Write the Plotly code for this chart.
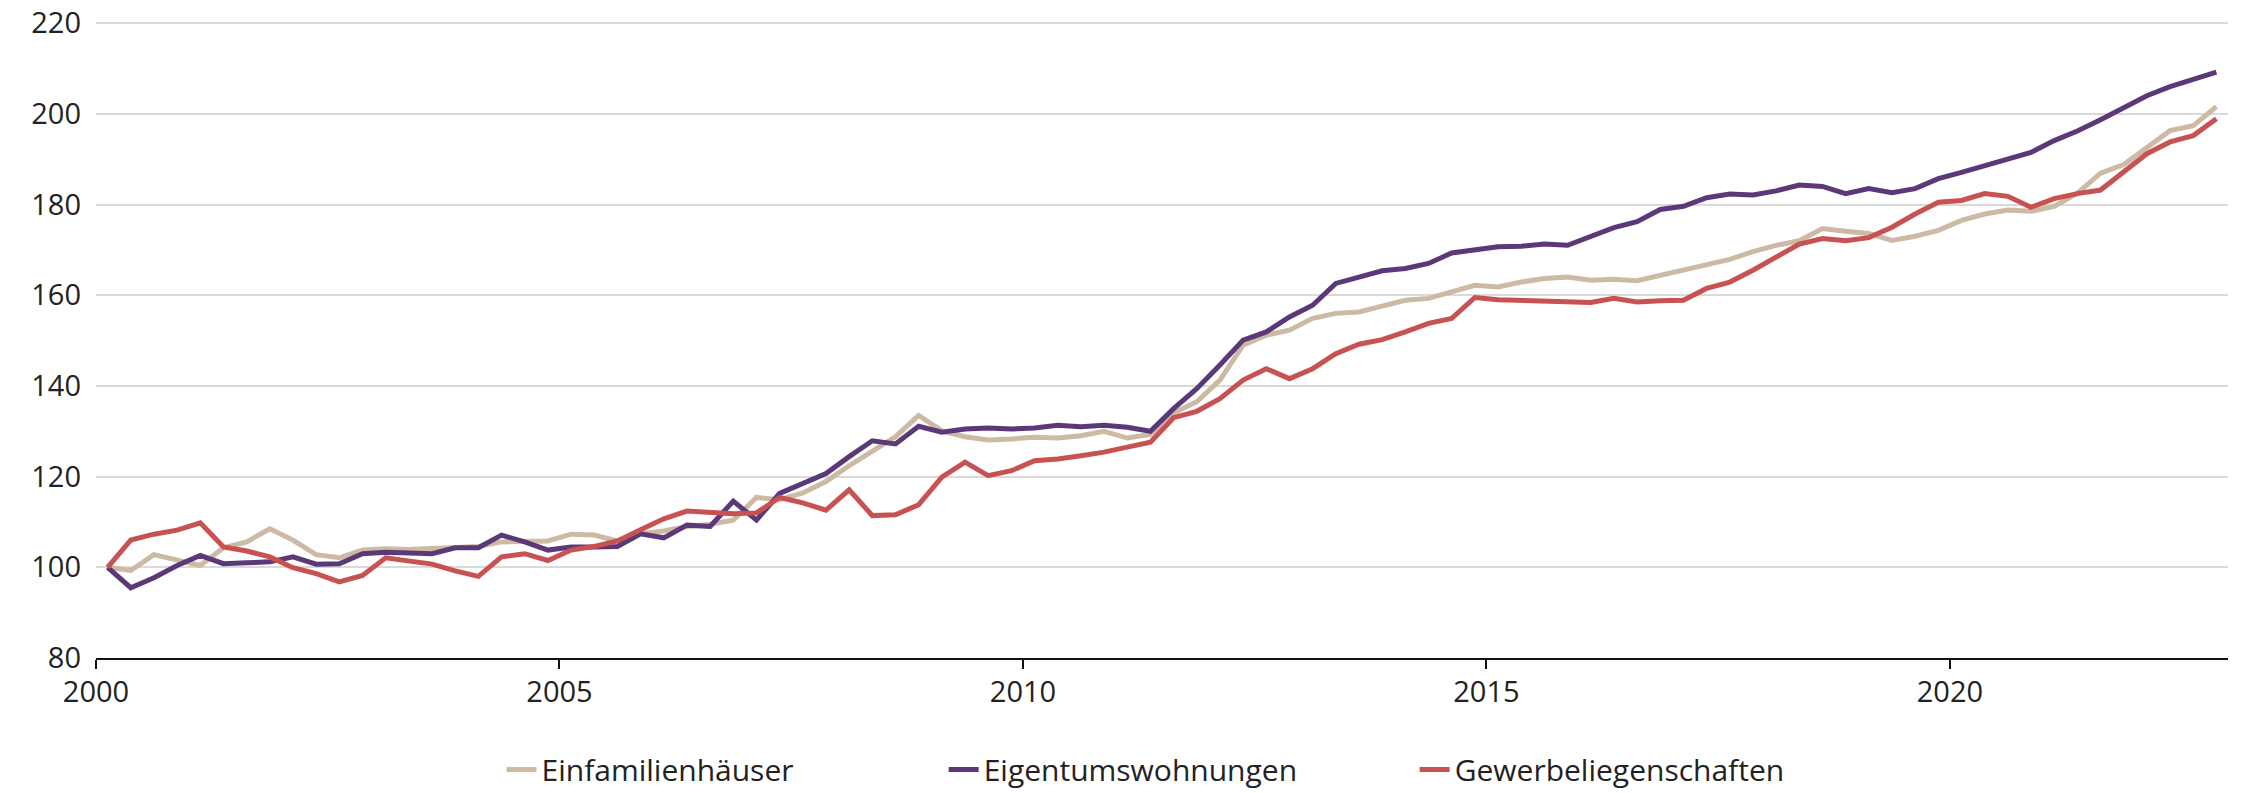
import plotly.graph_objects as go

# Quarterly observations, 2000 Q1 .. 2022 Q4 (plotted at mid-quarter)
start_year = 2000
n_quarters = 92
quarters = [start_year + 0.125 + 0.25 * i for i in range(n_quarters)]

einfamilienhaeuser = [
    100.0, 99.3, 102.8, 101.7, 100.4, 104.3, 105.6, 108.5, 106.0, 102.8,
    102.1, 103.8, 104.1, 103.9, 104.1, 104.4, 104.6, 105.6, 105.8, 105.8,
    107.3, 107.1, 105.8, 107.4, 108.0, 109.0, 109.5, 110.4, 115.4, 114.9,
    116.4, 118.9, 122.4, 125.7, 128.8, 133.5, 130.1, 128.8, 128.1, 128.3,
    128.7, 128.5, 129.0, 130.0, 128.5, 129.3, 134.0, 136.5, 141.3, 149.0,
    151.2, 152.3, 154.9, 156.0, 156.3, 157.6, 158.9, 159.3, 160.7, 162.2,
    161.8, 162.9, 163.7, 164.0, 163.3, 163.5, 163.2, 164.4, 165.5, 166.6,
    167.9, 169.6, 171.0, 172.0, 174.7, 174.1, 173.6, 172.1, 173.0, 174.3,
    176.5, 177.9, 178.8, 178.5, 179.6, 182.5, 186.9, 188.8, 192.6, 196.3,
    197.4, 201.6,
]

eigentumswohnungen = [
    100.0, 95.5, 97.7, 100.4, 102.6, 100.8, 101.0, 101.2, 102.3, 100.7,
    100.8, 103.0, 103.3, 103.2, 103.0, 104.3, 104.3, 107.1, 105.6, 103.8,
    104.5, 104.5, 104.6, 107.4, 106.5, 109.3, 109.0, 114.6, 110.4, 116.3,
    118.4, 120.7, 124.4, 127.9, 127.2, 131.1, 129.8, 130.5, 130.7, 130.5,
    130.7, 131.3, 131.0, 131.3, 130.9, 130.0, 135.0, 139.4, 144.6, 150.1,
    151.9, 155.2, 157.8, 162.6, 164.0, 165.4, 165.9, 167.0, 169.3, 169.9,
    170.7, 170.8, 171.3, 171.0, 172.9, 174.9, 176.2, 178.9, 179.6, 181.5,
    182.3, 182.1, 183.0, 184.3, 184.0, 182.4, 183.5, 182.6, 183.5, 185.7,
    187.1, 188.6, 189.9, 191.5, 194.1, 196.2, 198.7, 201.3, 204.0, 206.0,
    207.7, 209.2,
]

gewerbeliegenschaften = [
    100.0, 106.0, 107.3, 108.2, 109.8, 104.5, 103.6, 102.3, 99.9, 98.6,
    96.8, 98.2, 102.1, 101.5, 100.7, 99.2, 98.0, 102.3, 103.0, 101.5,
    103.8, 104.6, 105.8, 108.3, 110.7, 112.4, 112.2, 111.8, 112.0, 115.4,
    114.2, 112.6, 117.1, 111.4, 111.6, 113.8, 119.9, 123.2, 120.2, 121.3,
    123.5, 123.9, 124.6, 125.4, 126.5, 127.6, 133.0, 134.4, 137.2, 141.3,
    143.8, 141.6, 143.8, 147.1, 149.2, 150.2, 151.9, 153.8, 154.9, 159.5,
    159.0, 158.8, 158.6, 158.5, 158.4, 159.3, 158.5, 158.8, 158.9, 161.5,
    162.9, 165.5, 168.3, 171.3, 172.5, 172.0, 172.7, 175.0, 177.9, 180.5,
    180.9, 182.4, 181.8, 179.4, 181.3, 182.4, 183.2, 187.1, 191.2, 193.8,
    195.2, 198.9,
]

series_names = ["Einfamilienhäuser", "Eigentumswohnungen", "Gewerbeliegenschaften"]
series_colors = ["#CDBAA5", "#5B3878", "#C85252"]
series_values = [einfamilienhaeuser, eigentumswohnungen, gewerbeliegenschaften]

x_tickvals = [2000, 2005, 2010, 2015, 2020]
x_ticktext = ["2000", "2005", "2010", "2015", "2020"]
y_tickvals = [80, 100, 120, 140, 160, 180, 200, 220]

FONT = "Open Sans, Noto Sans, sans-serif"
FS = 29
LEGEND_FS = 30

legend_ids = ["legend", "legend2", "legend3"]
legend_x = [0.1902, 0.3976, 0.6185]

fig = go.Figure()
for name, color, vals, lg in zip(series_names, series_colors, series_values, legend_ids):
    fig.add_trace(go.Scatter(
        x=quarters, y=vals, name=name, mode="lines",
        line=dict(color=color, width=5), legend=lg,
    ))

legend_common = dict(
    orientation="h", xanchor="left", y=-0.1754, yanchor="middle",
    font=dict(family=FONT, size=LEGEND_FS, color="#222222"),
    bgcolor="rgba(0,0,0,0)",
)

# The page body adds an 8px offset, so the figure is 8px smaller than the window
fig.update_layout(
    width=2234, height=785,
    margin=dict(l=88, r=14, t=14, b=135, autoexpand=False),
    paper_bgcolor="white", plot_bgcolor="white",
    font=dict(family=FONT, size=FS, color="#222222"),
    showlegend=True,
    legend=dict(x=legend_x[0], **legend_common),
    legend2=dict(x=legend_x[1], **legend_common),
    legend3=dict(x=legend_x[2], **legend_common),
    xaxis=dict(
        range=[2000, 2023], tickmode="array", tickvals=x_tickvals, ticktext=x_ticktext,
        showgrid=False, zeroline=False, automargin=False,
        showline=True, linecolor="#111111", linewidth=2,
        ticks="outside", ticklen=9, tickwidth=2, tickcolor="#111111",
        ticklabelstandoff=-2,
    ),
    yaxis=dict(
        range=[80, 220.25], tickmode="array", tickvals=y_tickvals,
        showgrid=True, gridcolor="#DADADA", gridwidth=2,
        zeroline=False, showline=False, ticks="", automargin=False,
        ticklabelstandoff=14, ticklabeloverflow="allow",
    ),
)

fig.write_html("out.html")
